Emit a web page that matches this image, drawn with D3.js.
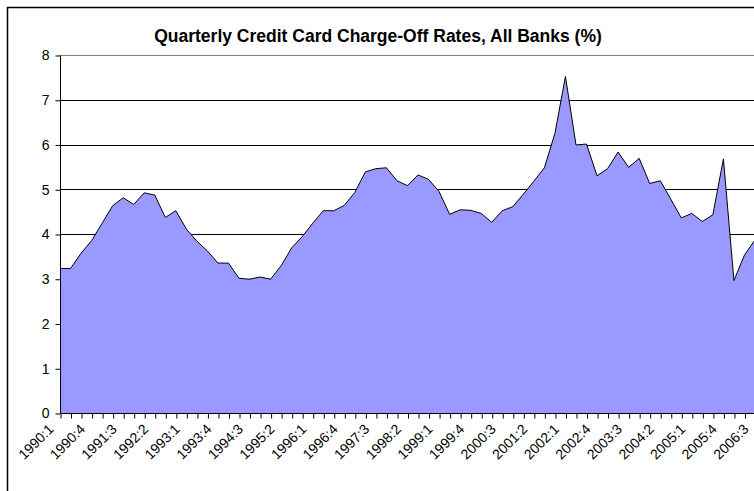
<!DOCTYPE html>
<html>
<head>
<meta charset="utf-8">
<script src="https://cdn.jsdelivr.net/npm/d3@7"></script>
<style>
  html, body { margin: 0; padding: 0; background: #fff; overflow: hidden; }
  svg { display: block; font-family: "Liberation Sans", Arial, sans-serif; }
</style>
</head>
<body>
<svg id="chart" width="754" height="491"></svg>
<script>
const title = "Quarterly Credit Card Charge-Off Rates, All Banks (%)";

const quarters = [
  "1990:1","1990:2","1990:3","1990:4","1991:1","1991:2","1991:3","1991:4",
  "1992:1","1992:2","1992:3","1992:4","1993:1","1993:2","1993:3","1993:4",
  "1994:1","1994:2","1994:3","1994:4","1995:1","1995:2","1995:3","1995:4",
  "1996:1","1996:2","1996:3","1996:4","1997:1","1997:2","1997:3","1997:4",
  "1998:1","1998:2","1998:3","1998:4","1999:1","1999:2","1999:3","1999:4",
  "2000:1","2000:2","2000:3","2000:4","2001:1","2001:2","2001:3","2001:4",
  "2002:1","2002:2","2002:3","2002:4","2003:1","2003:2","2003:3","2003:4",
  "2004:1","2004:2","2004:3","2004:4","2005:1","2005:2","2005:3","2005:4",
  "2006:1","2006:2","2006:3"
];

const chargeOffRates = [
  3.23, 3.23, 3.57, 3.85, 4.24, 4.63, 4.81, 4.66,
  4.92, 4.87, 4.37, 4.52, 4.11, 3.84, 3.62, 3.35,
  3.35, 3.01, 2.99, 3.04, 2.99, 3.29, 3.69, 3.94,
  4.24, 4.52, 4.52, 4.64, 4.93, 5.39, 5.46, 5.48,
  5.19, 5.08, 5.32, 5.22, 4.95, 4.44, 4.54, 4.53,
  4.46, 4.26, 4.52, 4.61, 4.89, 5.18, 5.48, 6.25,
  7.52, 5.99, 6.01, 5.30, 5.46, 5.83, 5.49, 5.69,
  5.13, 5.19, 4.78, 4.36, 4.46, 4.28, 4.43, 5.68,
  2.96, 3.53, 3.87
];

const yTicks = [0, 1, 2, 3, 4, 5, 6, 7, 8];
const xLabelEvery = 3;

const svg = d3.select("#chart");
const W = 754, H = 491;
const plot = { left: 60, right: 755, top: 55, bottom: 413 };

// chart area border (clipped on right/bottom as in the reference)
svg.append("rect")
  .attr("x", 7.5).attr("y", 7.5)
  .attr("width", 900).attr("height", 600)
  .attr("fill", "#fff").attr("stroke", "#000").attr("stroke-width", 1.5);

const x = d3.scalePoint().domain(quarters).range([plot.left, plot.right]);
const y = d3.scaleLinear().domain([0, 8]).range([plot.bottom, plot.top]);

// gridlines
svg.append("g").selectAll("line")
  .data(yTicks.filter(d => d > 0))
  .join("line")
  .attr("x1", plot.left).attr("x2", W + 10)
  .attr("y1", d => Math.round(y(d)) + 0.5).attr("y2", d => Math.round(y(d)) + 0.5)
  .attr("stroke", d => d === 8 ? "#808080" : "#000")
  .attr("stroke-width", 1);

// area
const area = d3.area()
  .x((d, i) => x(quarters[i]))
  .y0(y(0))
  .y1(d => y(d));
const line = d3.line()
  .x((d, i) => x(quarters[i]))
  .y(d => y(d));

svg.append("path").datum(chargeOffRates)
  .attr("d", area).attr("fill", "#9999FF").attr("stroke", "none");
svg.append("path").datum(chargeOffRates)
  .attr("d", line).attr("fill", "none").attr("stroke", "#000").attr("stroke-width", 1);

// y axis
const yAxis = d3.axisLeft(y).tickValues(yTicks).tickSize(5).tickPadding(6).tickFormat(d3.format("d"));
const gy = svg.append("g").attr("transform", `translate(${plot.left + 0.5},0.5)`).call(yAxis);
gy.select(".domain").attr("d", `M0,${plot.top}V${plot.bottom}`).attr("stroke", "#000");
gy.selectAll(".tick line").attr("stroke", "#000");
gy.selectAll(".tick text").attr("font-size", 14).attr("fill", "#000")
  .attr("font-family", "'Liberation Sans', Arial, sans-serif");

// x axis
const xAxis = d3.axisBottom(x).tickSize(5).tickPadding(4)
  .tickFormat((d, i) => i % xLabelEvery === 0 ? d : "");
const gx = svg.append("g").attr("transform", `translate(0.5,${plot.bottom + 0.5})`).call(xAxis);
gx.select(".domain").attr("d", `M${plot.left},0H${W + 10}`).attr("stroke", "#000");
gx.selectAll(".tick line").attr("stroke", "#000");
gx.selectAll(".tick text")
  .attr("font-size", 14).attr("fill", "#000")
  .attr("font-family", "'Liberation Sans', Arial, sans-serif")
  .attr("text-anchor", "end")
  .attr("dy", "0.35em")
  .attr("transform", "translate(-10,13) rotate(-45)")
  .attr("y", 0).attr("x", 0);

// title
svg.append("text")
  .attr("x", 378).attr("y", 42)
  .attr("text-anchor", "middle")
  .attr("font-size", 17.5).attr("font-weight", "bold")
  .attr("font-family", "'Liberation Sans', Arial, sans-serif")
  .attr("fill", "#000")
  .text(title);
</script>
</body>
</html>
